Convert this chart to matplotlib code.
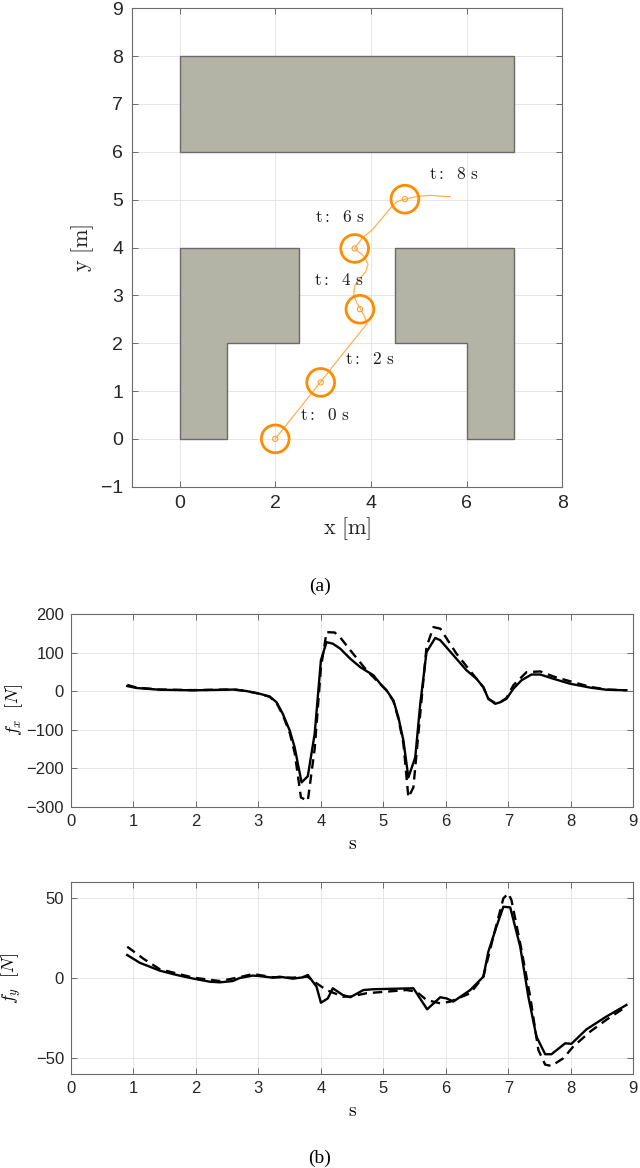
import numpy as np
import matplotlib
matplotlib.use("Agg")
import matplotlib.pyplot as plt
from matplotlib.patches import Polygon, Circle

plt.rcParams['mathtext.fontset'] = 'cm'
plt.rcParams['font.family'] = ['Liberation Sans', 'DejaVu Sans']

# ---------------- data: panel (a) ----------------
obs_top_x = [0, 7, 7, 0]
obs_top_y = [6, 6, 8, 8]
obs_left_x = [0, 1, 1, 2.5, 2.5, 0]
obs_left_y = [0, 0, 2, 2, 4, 4]
obs_right_x = [4.5, 7, 7, 6, 6, 4.5]
obs_right_y = [4, 4, 0, 0, 2, 2]

traj_x = [2.00, 2.47, 2.94, 3.43, 3.92, 3.86, 3.78, 3.70, 3.64, 3.66, 3.75, 3.89, 3.94,
          3.85, 3.66, 3.81, 4.03, 4.24, 4.41, 4.55, 4.71, 4.97, 5.25, 5.66]
traj_y = [0.00, 0.59, 1.18, 1.80, 2.41, 2.57, 2.72, 2.85, 3.02, 3.20, 3.33, 3.49, 3.65,
          3.82, 3.98, 4.19, 4.37, 4.62, 4.83, 4.96, 5.01, 5.07, 5.09, 5.06]

snap_x = [2.00, 2.95, 3.77, 3.66, 4.71]
snap_y = [0.00, 1.18, 2.71, 3.98, 5.01]
snap_labels = ['t: 0 s', 't: 2 s', 't: 4 s', 't: 6 s', 't: 8 s']
label_x = [2.52, 3.46, 2.80, 2.83, 5.22]
label_y = [0.50, 1.67, 3.32, 4.64, 5.53]

# ---------------- data: panel (b) ----------------
fx_t = [0.9, 1.05, 1.42, 1.95, 2.49, 2.6, 2.81, 3.02, 3.18, 3.29, 3.39, 3.5, 3.58, 3.69,
        3.79, 3.9, 4.0, 4.09, 4.19, 4.31, 4.47, 4.63, 4.84, 4.95, 5.05, 5.16, 5.24, 5.32,
        5.4, 5.51, 5.59, 5.69, 5.83, 5.91, 6.12, 6.33, 6.49, 6.6, 6.68, 6.79, 6.87, 6.97,
        7.08, 7.21, 7.37, 7.51, 7.72, 7.99, 8.31, 8.57, 8.89]
fx_solid = [13, 8, 3.5, 2, 3.5, 4, 0, -7, -14, -29, -59, -102, -146, -237,
            -221, -111, 80, 127, 123, 110, 84, 62, 41, 19, 2, -24, -68, -128,
            -224, -172, -33, 101, 138, 132, 93, 54, 32, 10, -20, -33, -29, -20,
            6, 28, 43, 43, 32, 19, 9, 3.5, 2]
fx_td = [0.9, 1.05, 1.42, 1.95, 2.49, 2.6, 2.81, 3.02, 3.18, 3.29, 3.39, 3.5, 3.58, 3.68,
         3.79, 3.9, 4.0, 4.09, 4.22, 4.31, 4.47, 4.73, 4.92, 5.05, 5.16, 5.24, 5.32,
         5.4, 5.48, 5.61, 5.69, 5.8, 5.91, 6.17, 6.49, 6.6, 6.68, 6.79, 6.87, 6.97,
         7.08, 7.29, 7.51, 7.72, 8.04, 8.31, 8.57, 8.89]
fx_dashed = [16, 9, 4, 2.5, 4, 4.5, 0, -7, -15, -31, -62, -108, -160, -276,
             -285, -150, 60, 153, 152, 139, 106, 54, 23, 2, -26, -72, -135,
             -276, -250, -24, 114, 166, 162, 97, 32, 10, -20, -31, -29, -18,
             15, 49, 51, 38, 23, 11, 4, 2]

fy_t = [0.9, 1.1, 1.42, 1.69, 1.96, 2.22, 2.38, 2.59, 2.7, 2.91, 3.02, 3.23, 3.34, 3.55,
        3.71, 3.79, 3.93, 4.0, 4.11, 4.19, 4.35, 4.47, 4.68, 4.84, 5.48, 5.7, 5.91, 6.01,
        6.12, 6.39, 6.6, 6.68, 6.81, 6.92, 7.03, 7.19, 7.32, 7.45, 7.59, 7.69, 7.91, 8.01,
        8.25, 8.57, 8.89]
fy_solid = [14.3, 9.5, 4.6, 1.9, -0.4, -2.3, -2.7, -1.9, 0, 1.5, 1.2, 0.2, 0.8, -0.4,
            0.4, 1.9, -5.4, -15.4, -12.7, -6.4, -10.6, -12, -7.5, -7, -6.4, -19.5, -12, -12.7,
            -14.7, -7.5, 0.8, 16.4, 32, 44.4, 44, 19.5, -11.6, -36.5, -47.5, -47.5, -40.7, -41,
            -32, -24, -16.8]
fy_td = [0.9, 1.16, 1.42, 1.96, 2.38, 2.7, 2.91, 3.23, 3.55, 3.79, 3.93, 4.09, 4.35,
         4.47, 4.73, 5.37, 5.53, 5.69, 5.91, 6.07, 6.39, 6.6, 6.76, 6.92, 7.0, 7.05, 7.19,
         7.35, 7.48, 7.59, 7.69, 7.88, 8.04, 8.31, 8.57, 8.89]
fy_dashed = [19.5, 12, 5.5, 0.2, -1.9, 0.5, 2.5, 0.5, 0.2, 0.8, -3.3, -7.5, -11.6,
             -11.6, -9.5, -7.5, -8.5, -13.7, -15.8, -14.7, -9.5, 0.8, 25.7, 49.6, 52.7, 48.5, 21.6,
             -11.6, -44.8, -54, -54.8, -50, -42.7, -33.4, -26, -17.8]

# ---------------- styling ----------------
W, H = 640, 1168
fig = plt.figure(figsize=(W / 100, H / 100), dpi=100)

def px_axes(l, r, t, b):
    return fig.add_axes([l / W, 1 - b / H, (r - l) / W, (b - t) / H])

spine_c = '#6a6a6a'
tick_c = '#262626'
grid_c = '#e6e6e6'
obs_face = '#b3b4a6'
obs_edge = '#6a6a6a'
orange = '#ff8c00'

def style(ax, fs, pad):
    for s in ax.spines.values():
        s.set_color(spine_c)
        s.set_linewidth(0.8)
    ax.tick_params(direction='in', top=True, right=True, length=4, width=0.7,
                   color=spine_c, labelcolor=tick_c, labelsize=fs, pad=pad)
    ax.grid(True, color=grid_c, linewidth=0.7)
    ax.set_axisbelow(True)

# ---------------- panel (a) ----------------
ax = px_axes(131.7, 562.3, 8.3, 486.7)
style(ax, 14, 6)
for ox, oy in [(obs_top_x, obs_top_y), (obs_left_x, obs_left_y), (obs_right_x, obs_right_y)]:
    ax.add_patch(Polygon(np.column_stack([ox, oy]), closed=True, facecolor=obs_face,
                         edgecolor=obs_edge, linewidth=1.0, zorder=2))
ax.plot(traj_x, traj_y, color='#ffb050', linewidth=0.9, zorder=3)
for cx, cy in zip(snap_x, snap_y):
    ax.add_patch(Circle((cx, cy), 0.29, fill=False, edgecolor=orange, linewidth=2.0, zorder=4))
    ax.add_patch(Circle((cx, cy), 0.055, fill=False, edgecolor='#ffa030', linewidth=0.8, zorder=4))
for lx, ly, lab in zip(label_x, label_y, snap_labels):
    t, n, u = lab.split()
    ax.text(lx, ly, r'$\mathrm{t{:}\ \ %s\ s}$' % n, fontsize=12.5, ha='left', va='center',
            color='#1a1a1a', zorder=5)
ax.set_xlim(-1, 8)
ax.set_ylim(-1, 9)
ax.set_xticks([0, 2, 4, 6, 8])
ax.set_yticks(range(-1, 10))
ax.set_xlabel(r'$\mathrm{x\ [m]}$', fontsize=16, color='#262626', labelpad=2)
ax.set_ylabel(r'$\mathrm{y\ [m]}$', fontsize=16, color='#262626', labelpad=4)
fig.text(320 / W, 1 - 586 / H, '(a)', fontsize=14, family='Liberation Serif',
         ha='center', va='center')

# ---------------- panel (b) ----------------
ax1 = px_axes(71, 633.3, 614, 806.7)
style(ax1, 12, 5)
ax1.plot(fx_td, fx_dashed, color='black', linewidth=1.7, linestyle=(0, (4, 2.5)))
ax1.plot(fx_t, fx_solid, color='black', linewidth=1.7)
ax1.set_xlim(0, 9)
ax1.set_ylim(-300, 200)
ax1.set_xticks(range(0, 10))
ax1.set_yticks([-300, -200, -100, 0, 100, 200])
ax1.set_xlabel(r'$\mathrm{s}$', fontsize=14, labelpad=5)
ax1.set_ylabel(r'$f_x\ \ [N]$', fontsize=13, labelpad=1)

ax2 = px_axes(71, 633.3, 881.7, 1074.3)
style(ax2, 12, 5)
ax2.plot(fy_td, fy_dashed, color='black', linewidth=1.7, linestyle=(0, (4, 2.5)))
ax2.plot(fy_t, fy_solid, color='black', linewidth=1.7)
ax2.set_xlim(0, 9)
ax2.set_ylim(-60, 60)
ax2.set_xticks(range(0, 10))
ax2.set_yticks([-50, 0, 50])
ax2.set_xlabel(r'$\mathrm{s}$', fontsize=14, labelpad=5)
ax2.set_ylabel(r'$f_y\ \ [N]$', fontsize=13, labelpad=9)
fig.text(320 / W, 1 - 1158 / H, '(b)', fontsize=14, family='Liberation Serif',
         ha='center', va='center')

fig.savefig('out.png', dpi=100)
